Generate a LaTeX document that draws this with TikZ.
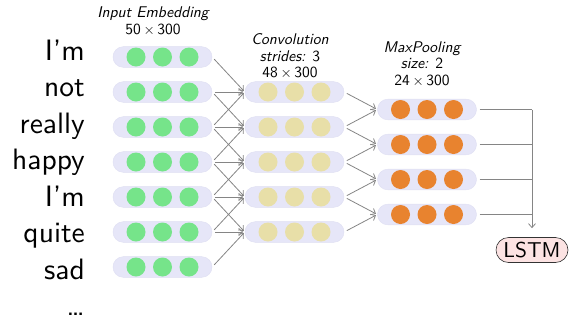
\documentclass[tikz,border=0pt]{standalone}
\usepackage{fontspec}
\usetikzlibrary{arrows.meta}
\newfontfamily\ssten{lmsans10-regular.otf}[ItalicFont=lmsans10-oblique.otf,Ligatures=TeX]
\definecolor{pillc}{HTML}{E6E6F8}
\definecolor{pillb}{HTML}{DEDEF2}
\definecolor{greenc}{HTML}{76E48A}
\definecolor{yellowc}{HTML}{E8DFA8}
\definecolor{orangec}{HTML}{E8832F}
\definecolor{edgec}{HTML}{858585}
\definecolor{lstmc}{HTML}{FCE3E3}
\begin{document}
\begin{tikzpicture}[x=1pt,y=-1pt,
  pill/.style={draw=pillb,line width=0.4pt,fill=pillc,rounded corners=10.3pt,minimum width=99pt,minimum height=20.7pt,inner sep=0pt},
  dot/.style={circle,draw=none,minimum size=19pt,inner sep=0pt},
  word/.style={font=\ssten\fontsize{29.5}{30}\selectfont,anchor=base east,inner sep=0pt},
  lab/.style={font=\ssten\fontsize{15.5}{16.5}\selectfont,align=center,inner sep=0pt},
  edge/.style={draw=edgec,line width=0.8pt,-{Straight Barb[length=4pt,width=7pt]},shorten <=3pt,shorten >=1.5pt},
  plain/.style={draw=edgec,line width=0.8pt},
  lstmbox/.style={draw=black!80,line width=0.6pt,fill=lstmc,rounded corners=12.5pt,minimum width=72pt,minimum height=25pt,inner sep=0pt,font=\ssten\fontsize{21.5}{22}\selectfont}]
\useasboundingbox (0,0) rectangle (570,327);
% words
\foreach \k/\w in {1/I’m,2/not,3/really,4/happy,5/I’m,6/quite,7/sad}{
  \pgfmathsetmacro\yy{60+36.5*(\k-1)}
  \node[word] (w\k) at (85,\yy) {\w};
}
\node[word] (w8) at (85,315.5) {\textellipsis};
% input layer
\foreach \k in {1,...,7}{
  \pgfmathsetmacro\yy{57+35*(\k-1)}
  \node[pill] (i\k) at (162.5,\yy) {};
  \foreach \dx/\n in {-26.5/a,0/b,26.5/c}
    \node[dot,fill=greenc] (i\k\n) at ([xshift=\dx pt]i\k.center) {};
}
% conv layer
\foreach \k in {1,...,5}{
  \pgfmathsetmacro\yy{92+35*(\k-1)}
  \node[pill] (c\k) at (294.5,\yy) {};
  \foreach \dx/\n in {-26.5/a,0/b,26.5/c}
    \node[dot,fill=yellowc] (c\k\n) at ([xshift=\dx pt]c\k.center) {};
}
% pool layer
\foreach \k in {1,...,4}{
  \pgfmathsetmacro\yy{109.5+35*(\k-1)}
  \node[pill] (p\k) at (427,\yy) {};
  \foreach \dx/\n in {-26.5/a,0/b,26.5/c}
    \node[dot,fill=orangec] (p\k\n) at ([xshift=\dx pt]p\k.center) {};
}
% labels
\node[lab] (tin) at (153,21) {\itshape Input Embedding\\50\,$\times$\,300};
\node[lab] (tconv) at (290,56.5) {\itshape Convolution\\\itshape strides: \upshape 3\\48\,$\times$\,300};
\node[lab] (tpool) at (422,64) {\itshape MaxPooling\\\itshape size: \upshape 2\\24\,$\times$\,300};
% LSTM
\node[lstmbox] (lstm) at (532,250) {LSTM};
% input -> conv
\foreach \j in {1,...,5}{
  \foreach \d in {0,1,2}{
    \pgfmathtruncatemacro\src{\j+\d}
    \draw[edge] (i\src.east) -- (c\j.west);
  }
}
% conv -> pool
\foreach \k in {1,...,4}{
  \pgfmathtruncatemacro\nx{\k+1}
  \draw[edge] (c\k.east) -- (p\k.west);
  \draw[edge] (c\nx.east) -- (p\k.west);
}
% pool -> lstm
\foreach \k in {1,...,4}{
  \draw[plain,shorten <=3pt] (p\k.east) -- (p\k.east -| lstm.north);
}
\draw[edge,shorten <=0pt,shorten >=9pt] (p1.east -| lstm.north) -- (lstm.north);
\end{tikzpicture}
\end{document}
